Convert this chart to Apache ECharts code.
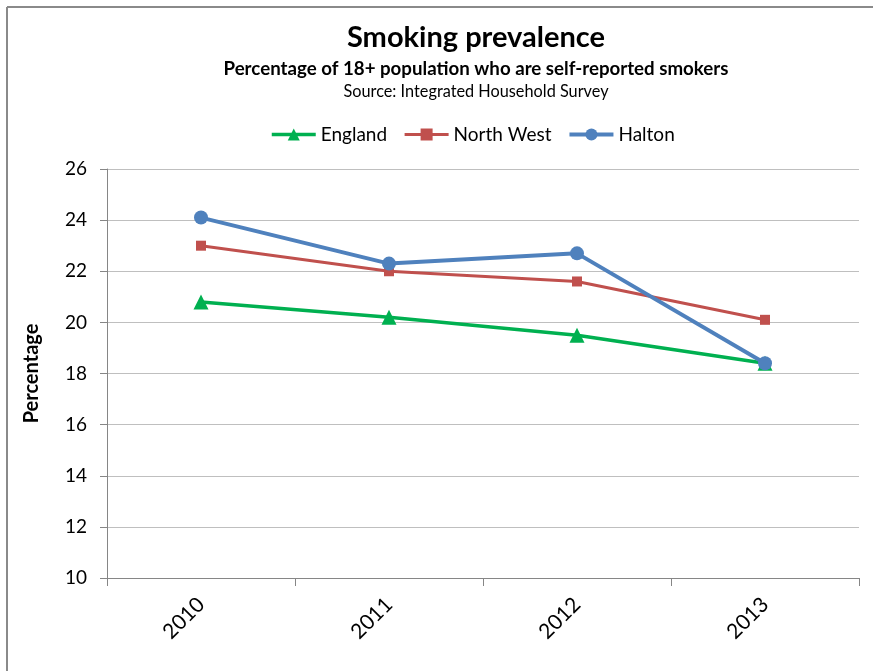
<!DOCTYPE html>
<html>
<head>
<meta charset="utf-8">
<script src="https://cdn.jsdelivr.net/npm/echarts@6/dist/echarts.min.js"></script>
<style>
  html, body { margin: 0; padding: 0; background: #fff; }
  #chart { width: 873px; height: 671px; }
</style>
</head>
<body>
<div id="chart"></div>
<script>
// Smoking prevalence by area, 2010-2013
const years = ['2010', '2011', '2012', '2013'];
const england = [20.8, 20.2, 19.5, 18.4];
const northWest = [23.0, 22.0, 21.6, 20.1];
const halton = [24.1, 22.3, 22.7, 18.4];
const seriesNames = ['England', 'North West', 'Halton'];
const yTicks = { min: 10, max: 26, step: 2 };

const FONT = 'Lato, "Noto Sans", sans-serif';
const chart = echarts.init(document.getElementById('chart'), null, { renderer: 'canvas' });

chart.setOption({
  animation: false,
  backgroundColor: '#ffffff',
  textStyle: { fontFamily: FONT, color: '#000' },
  title: [
    { text: 'Smoking prevalence', left: 471, top: 18, textAlign: 'center',
      textStyle: { fontFamily: FONT, fontSize: 29, fontWeight: 'bold', color: '#000' } },
    { text: 'Percentage of 18+ population who are self-reported smokers', left: 471, top: 54, textAlign: 'center',
      textStyle: { fontFamily: FONT, fontSize: 18.7, fontWeight: 'bold', color: '#000' } },
    { text: 'Source: Integrated Household Survey', left: 471, top: 79, textAlign: 'center',
      textStyle: { fontFamily: FONT, fontSize: 16.3, fontWeight: 'normal', color: '#000' } }
  ],
  legend: {
    top: 120,
    left: 265,
    itemWidth: 44,
    itemHeight: 15,
    itemGap: 16,
    textStyle: { fontFamily: FONT, fontSize: 19, color: '#000' },
    data: seriesNames.map(function (n) { return { name: n, lineStyle: { width: 'inherit' } }; })
  },
  graphic: [
    { type: 'line', shape: { x1: 7, y1: 7, x2: 873, y2: 7 }, style: { stroke: '#8a8a8a', lineWidth: 2 } },
    { type: 'line', shape: { x1: 7, y1: 7, x2: 7, y2: 671 }, style: { stroke: '#8a8a8a', lineWidth: 2 } }
  ],
  grid: { left: 107, right: 14, top: 169, bottom: 93, containLabel: false },
  xAxis: {
    type: 'category',
    data: years,
    boundaryGap: true,
    axisLine: { lineStyle: { color: '#868686', width: 1 } },
    axisTick: { show: true, length: 8, inside: false, lineStyle: { color: '#868686' } },
    axisLabel: { rotate: 45, fontSize: 21, margin: 23, color: '#000', fontFamily: FONT }
  },
  yAxis: {
    type: 'value',
    min: yTicks.min,
    max: yTicks.max,
    interval: yTicks.step,
    name: 'Percentage',
    nameLocation: 'middle',
    nameRotate: 90,
    nameGap: 65,
    nameTextStyle: { fontFamily: FONT, fontSize: 20, fontWeight: 'bold', color: '#000' },
    axisLine: { show: true, lineStyle: { color: '#868686', width: 1 } },
    axisTick: { show: true, length: 7, inside: false, lineStyle: { color: '#868686' } },
    axisLabel: { fontSize: 19, margin: 20, color: '#000', fontFamily: FONT },
    splitLine: { show: true, lineStyle: { color: '#bfbfbf', width: 1 } }
  },
  series: [
    {
      name: seriesNames[0], type: 'line', data: england,
      symbol: 'triangle', symbolSize: 15,
      lineStyle: { color: '#00b050', width: 3.5 },
      itemStyle: { color: '#00b050' }
    },
    {
      name: seriesNames[1], type: 'line', data: northWest,
      symbol: 'rect', symbolSize: 10,
      lineStyle: { color: '#c0504d', width: 3 },
      itemStyle: { color: '#c0504d' }
    },
    {
      name: seriesNames[2], type: 'line', data: halton,
      symbol: 'circle', symbolSize: 14,
      lineStyle: { color: '#4f81bd', width: 4 },
      itemStyle: { color: '#4f81bd' }
    }
  ]
});
</script>
</body>
</html>
